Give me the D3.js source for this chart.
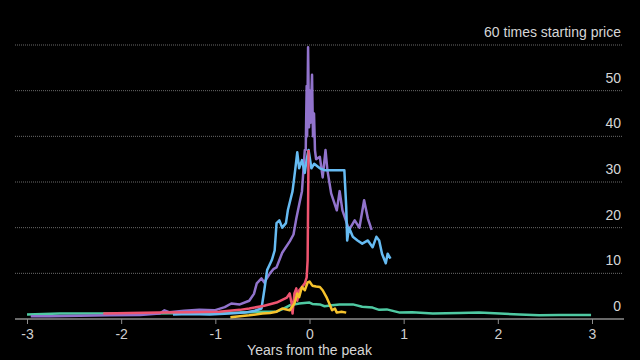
<!DOCTYPE html>
<html><head><meta charset="utf-8">
<script src="https://cdn.jsdelivr.net/npm/d3@7"></script>
<style>body{margin:0;background:#000}svg{display:block;background:#000}</style>
</head><body><svg id="c" width="640" height="360"></svg>
<script>
// Data: [years from peak, times starting price]
const xTicks = [-3, -2, -1, 0, 1, 2, 3];
const yTicks = [0, 10, 20, 30, 40, 50, 60];
const yTopLabel = "60 times starting price";
const xTitle = "Years from the peak";

const greenSeries = [[-3.00,1.0],[-2.65,1.2],[-2.23,1.2],[-1.70,1.2],[-1.17,1.3],[-0.74,1.4],[-0.48,1.6],[-0.35,1.6],[-0.28,2.2],[-0.21,3.0],[-0.11,3.4],[0.00,3.6],[0.03,3.3],[0.11,3.2],[0.16,2.8],[0.24,3.0],[0.32,3.2],[0.46,3.2],[0.56,2.7],[0.67,2.5],[0.74,2.0],[0.82,2.1],[0.96,1.4],[1.09,1.5],[1.31,1.2],[1.59,1.3],[1.80,1.4],[2.02,1.2],[2.23,1.0],[2.44,0.8],[2.65,0.9],[2.99,0.9]];

const purpleSeries = [[-2.96,0.6],[-2.76,0.6],[-2.44,0.7],[-2.12,0.8],[-1.80,0.9],[-1.59,1.2],[-1.54,1.9],[-1.49,1.5],[-1.33,1.8],[-1.17,2.0],[-1.01,1.9],[-0.90,2.6],[-0.83,3.4],[-0.74,3.2],[-0.64,4.0],[-0.59,5.5],[-0.56,7.8],[-0.51,8.9],[-0.48,8.0],[-0.42,10.0],[-0.38,11.0],[-0.35,11.3],[-0.29,14.5],[-0.21,17.0],[-0.17,18.5],[-0.14,22.0],[-0.11,25.0],[-0.08,28.0],[-0.05,37.0],[-0.04,37.0],[-0.03,51.0],[-0.025,40.0],[-0.015,59.5],[-0.005,42.0],[0.005,50.0],[0.01,43.0],[0.027,53.5],[0.037,40.0],[0.048,45.0],[0.058,37.0],[0.07,35.0],[0.11,35.5],[0.14,31.0],[0.17,37.0],[0.19,32.6],[0.23,27.5],[0.29,23.8],[0.32,28.0],[0.35,23.8],[0.42,19.5],[0.48,21.6],[0.53,20.0],[0.58,26.0],[0.62,22.0],[0.66,19.5]];

const blueSeries = [[-1.45,1.0],[-1.27,1.1],[-1.06,1.0],[-0.85,1.2],[-0.69,1.4],[-0.58,1.8],[-0.51,2.3],[-0.48,6.3],[-0.45,10.7],[-0.40,12.9],[-0.37,15.0],[-0.35,21.0],[-0.32,21.6],[-0.29,20.0],[-0.25,21.0],[-0.23,23.8],[-0.18,28.0],[-0.15,33.0],[-0.13,36.5],[-0.11,33.0],[-0.08,34.8],[-0.05,32.0],[-0.03,35.0],[-0.01,37.0],[0.02,33.0],[0.05,34.0],[0.11,33.0],[0.16,32.6],[0.21,32.6],[0.37,32.6],[0.39,24.5],[0.40,17.2],[0.42,20.0],[0.46,18.0],[0.51,17.2],[0.56,16.5],[0.62,17.2],[0.67,15.7],[0.71,18.0],[0.74,17.2],[0.77,14.3],[0.81,12.2],[0.83,14.3],[0.86,13.2]];

const redSeries = [[-2.19,1.2],[-1.91,1.3],[-1.59,1.4],[-1.27,1.5],[-0.96,1.6],[-0.74,2.0],[-0.64,2.3],[-0.48,2.9],[-0.35,3.6],[-0.24,4.7],[-0.21,5.6],[-0.19,3.4],[-0.18,1.2],[-0.16,5.6],[-0.14,6.7],[-0.13,4.0],[-0.11,6.3],[-0.08,7.0],[-0.05,7.8],[-0.03,9.1],[-0.02,12.8],[-0.01,37.0]];

const yellowSeries = [[-0.84,0.4],[-0.74,0.6],[-0.64,0.8],[-0.50,1.2],[-0.42,1.3],[-0.35,1.6],[-0.29,2.3],[-0.21,1.9],[-0.16,3.4],[-0.13,5.6],[-0.11,4.8],[-0.08,7.0],[-0.05,6.3],[-0.02,8.0],[0.00,8.2],[0.03,7.3],[0.07,7.1],[0.11,7.0],[0.14,6.3],[0.18,4.8],[0.21,3.4],[0.24,1.9],[0.27,2.3],[0.29,1.4],[0.34,1.6],[0.39,1.4]];

const seriesList = [greenSeries, purpleSeries, blueSeries, redSeries, yellowSeries];
const seriesColors = ["#4fc9a2", "#9173cc", "#66bbf2", "#ef5470", "#f6c22c"];

const svg = d3.select("#c");
const x = d3.scaleLinear().domain([-3, 3]).range([27, 592]);
const y = d3.scaleLinear().domain([0, 60]).range([319, 45]);
const font = "'Liberation Sans', Arial, Helvetica, sans-serif";

// gridlines
const gy = svg.append("g");
gy.selectAll("line").data(yTicks.filter(d => d > 0)).join("line")
  .attr("x1", 15).attr("x2", 623)
  .attr("y1", d => y(d)).attr("y2", d => y(d))
  .attr("stroke", "#6a6a6a").attr("stroke-width", 1)
  .attr("stroke-dasharray", "1,1");
gy.selectAll("text").data(yTicks).join("text")
  .attr("x", 621).attr("y", d => y(d) - 8)
  .attr("text-anchor", "end")
  .attr("font-family", font).attr("font-size", 14)
  .attr("fill", "#d6d6d6")
  .text(d => d === 60 ? yTopLabel : d);

// x axis
const xAxis = d3.axisBottom(x).tickValues(xTicks).tickSize(5).tickPadding(5)
  .tickFormat(d => d < 0 ? "-" + Math.abs(d) : d);
const ax = svg.append("g").attr("transform", `translate(0,${y(0)})`).call(xAxis);
ax.select(".domain").remove();
ax.append("line").attr("x1", 15).attr("x2", 624).attr("y1", 0).attr("y2", 0)
  .attr("stroke", "#8c8c8c").attr("stroke-width", 1.5);
ax.selectAll(".tick line").attr("stroke", "#8c8c8c");
ax.selectAll(".tick text").attr("fill", "#cfcfcf").attr("font-size", 14).attr("font-family", font);

svg.append("text").attr("x", x(0)).attr("y", 355)
  .attr("text-anchor", "middle").attr("font-family", font).attr("font-size", 14)
  .attr("fill", "#d6d6d6").text(xTitle);

// lines
const line = d3.line().x(d => x(d[0])).y(d => y(d[1]));
svg.append("g").selectAll("path").data(seriesList).join("path")
  .attr("d", line)
  .attr("fill", "none")
  .attr("stroke", (d, i) => seriesColors[i])
  .attr("stroke-width", 2.5)
  .attr("stroke-linejoin", "round");
</script>
</body></html>
